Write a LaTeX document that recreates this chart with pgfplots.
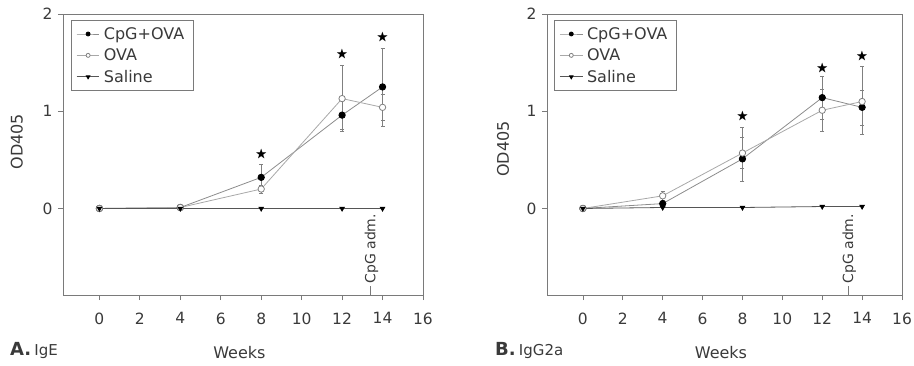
\documentclass[border=0pt]{standalone}
\usepackage{pgfplots}
\pgfplotsset{compat=1.18}
\usepackage{amssymb}
\usepackage{fontspec}
\setmainfont{DejaVu Sans}
\definecolor{txt}{HTML}{3A3A3A}
\definecolor{axc}{HTML}{7A7A7A}
\definecolor{lnA}{HTML}{8C8C8C}
\definecolor{lnB}{HTML}{A8A8A8}
\definecolor{lnS}{HTML}{555555}
\pgfplotsset{panel/.style={
  scale only axis, height=281pt,
  xmin=-1.8, xmax=16, ymin=-0.89, ymax=2,
  xtick={0,2,...,16}, ytick={0,1,2},
  tick align=outside, xtick pos=left, ytick pos=left,
  major tick length=5pt,
  axis line style={axc, line width=0.8pt},
  tick style={axc, line width=0.8pt},
  /pgf/number format/assume math mode=true,
  ticklabel style={font=\fontsize{15.5}{18}\selectfont, text=txt},
  xticklabel style={yshift=-9pt},
  yticklabel style={xshift=-2pt},
  xlabel=Weeks, ylabel=OD405,
  label style={font=\fontsize{16}{19}\selectfont, text=txt},
  legend style={font=\fontsize{16}{19}\selectfont, text=txt, draw=axc, line width=0.8pt, anchor=north west, inner xsep=5pt, inner ysep=5pt, row sep=4pt, nodes={inner xsep=4pt}},
  legend cell align=left,
  legend image code/.code={\draw[mark repeat=2,mark phase=2,#1,mark size=2pt] plot coordinates {(0cm,0cm) (0.4cm,0cm) (0.8cm,0cm)};},
  clip=false,
  cpg/.style={color=lnA, line width=0.8pt, mark=*, mark size=3.2pt, mark options={fill=black, draw=black},
    error bars/.cd, y dir=both, y explicit,
    error bar style={gray, line width=0.6pt},
    error mark options={rotate=90, mark size=2pt, gray, line width=0.6pt}},
  ova/.style={color=lnB, line width=0.8pt, mark=*, mark size=3.2pt, mark options={fill=white, draw=gray},
    error bars/.cd, y dir=both, y explicit,
    error bar style={gray, line width=0.6pt},
    error mark options={rotate=90, mark size=2pt, gray, line width=0.6pt}},
  sal/.style={color=lnS, line width=0.8pt, mark=triangle*, mark size=2.6pt, mark options={fill=black, draw=black, rotate=180}},
  stars/.style={only marks, mark=text, text mark={\color{black}\large$\bigstar$}, forget plot},
}}
\begin{document}
\begin{tikzpicture}
\useasboundingbox (0,0) rectangle (914pt,-365pt);
% Panel A
\begin{axis}[panel, width=360pt, at={(63pt,-295pt)}, anchor=south west,
  xlabel style={at={(axis description cs:0.49,-0.206)}, anchor=center},
  ylabel style={at={(axis description cs:-0.128,0.545)}, anchor=center},
  legend style={at={(axis description cs:0.022,0.979)}}]
\addplot[cpg] coordinates {(0,0) +- (0,0) (4,0.01) +- (0,0) (8,0.32) +- (0,0.13) (12,0.96) +- (0,0.15) (14,1.25) +- (0,0.40)};
\addlegendentry{CpG+OVA}
\addplot[ova] coordinates {(0,0) +- (0,0) (4,0.01) +- (0,0) (8,0.20) +- (0,0.04) (12,1.13) +- (0,0.34) (14,1.04) +- (0,0.13)};
\addlegendentry{OVA}
\addplot[sal] coordinates {(0,0) (4,0) (8,0) (12,0) (14,0)};
\addlegendentry{Saline}
\addplot[stars] coordinates {(8,0.55) (12,1.58) (14,1.76)};
\node[rotate=90, anchor=west, inner sep=0pt, font=\fontsize{14}{16}\selectfont, text=txt] at (axis cs:13.45,-0.89) {\raisebox{0.33em}{\color{axc}\rule{9pt}{0.8pt}}\,CpG adm.};
\end{axis}
% Panel B
\begin{axis}[panel, width=355pt, at={(547pt,-295pt)}, anchor=south west,
  xlabel style={at={(axis description cs:0.49,-0.206)}, anchor=center},
  ylabel style={at={(axis description cs:-0.124,0.52)}, anchor=center},
  legend style={at={(axis description cs:0.02,0.979)}}]
\addplot[cpg] coordinates {(0,0) +- (0,0) (4,0.05) +- (0,0.03) (8,0.51) += (0,0.32) -= (0,0.23) (12,1.14) +- (0,0.22) (14,1.04) += (0,0.42) -= (0,0.28)};
\addlegendentry{CpG+OVA}
\addplot[ova] coordinates {(0,0) +- (0,0) (4,0.13) +- (0,0.05) (8,0.57) +- (0,0.16) (12,1.01) +- (0,0.22) (14,1.10) += (0,0.12) -= (0,0.24)};
\addlegendentry{OVA}
\addplot[sal] coordinates {(0,0) (4,0.01) (8,0.01) (12,0.02) (14,0.02)};
\addlegendentry{Saline}
\addplot[stars] coordinates {(8,0.95) (12,1.44) (14,1.56)};
\node[rotate=90, anchor=west, inner sep=0pt, font=\fontsize{14}{16}\selectfont, text=txt] at (axis cs:13.35,-0.89) {\raisebox{0.33em}{\color{axc}\rule{9pt}{0.8pt}}\,CpG adm.};
\end{axis}
\node[anchor=west, text=txt, inner sep=0pt] at (10pt,-350pt) {{\fontsize{18}{21}\selectfont\bfseries A.} {\fontsize{15}{18}\selectfont IgE}};
\node[anchor=west, text=txt, inner sep=0pt] at (495pt,-350pt) {{\fontsize{18}{21}\selectfont\bfseries B.} {\fontsize{15}{18}\selectfont IgG2a}};
\end{tikzpicture}
\end{document}
